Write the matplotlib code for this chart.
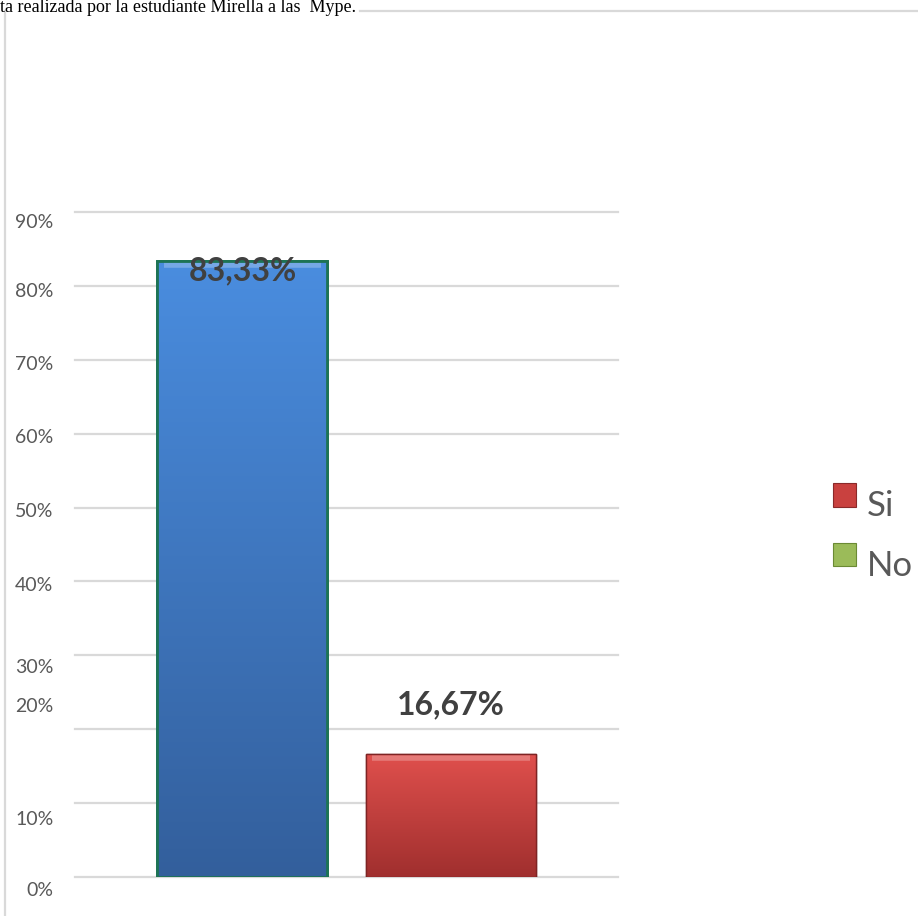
import matplotlib
matplotlib.use("Agg")
import matplotlib.pyplot as plt
import matplotlib.transforms as mtransforms
from matplotlib.patches import Patch, Rectangle
from matplotlib.legend_handler import HandlerPatch
import numpy as np

# data
categories = ["Si", "No"]
values = [83.33, 16.67]
value_labels = ["83,33%", "16,67%"]
grid_values = [0, 10, 20, 30, 40, 50, 60, 70, 80, 90]
tick_labels = ["0%", "10%", "20%", "30%", "40%", "50%", "60%", "70%", "80%", "90%"]
# the percent labels in the source sit off their gridlines
tick_label_pos = [-1.8, 7.8, 23.1, 28.3, 39.5, 49.4, 59.5, 69.3, 79.3, 88.6]
legend_labels = ["Si", "No"]
title = "ta realizada por la estudiante Mirella a las  Mype."

W, H = 918, 916
fig = plt.figure(figsize=(W / 100, H / 100), dpi=100)
fig.patch.set_facecolor("white")

ax = fig.add_axes([75 / W, (H - 877) / H, 543 / W, (877 - 212) / H])
for s in ax.spines.values():
    s.set_visible(False)
ax.set_xticks([])
ax.set_yticks([])
for g in grid_values:
    ax.axhline(g, color="#d9d9d9", lw=1.6, zorder=0, clip_on=False)

trans = mtransforms.blended_transform_factory(ax.transAxes, ax.transData)
for p, lab in zip(tick_label_pos, tick_labels):
    ax.text(-0.04, p, lab, transform=trans, ha="right", va="center",
            fontsize=14, color="#595959", family="Lato", clip_on=False)

bar_tops = ["#4a8ddf", "#e0504d"]
bar_bots = ["#335f9c", "#a02f2e"]
edges = ["#1d7355", "#7e2424"]
bars = ax.bar([0, 1], values, width=0.815, color=bar_tops, edgecolor=edges,
              linewidth=[2.0, 1.0], zorder=2)

for b, c1, c2 in zip(bars, bar_tops, bar_bots):
    x, w, h = b.get_x(), b.get_width(), b.get_height()
    c1 = np.array(matplotlib.colors.to_rgb(c1))
    c2 = np.array(matplotlib.colors.to_rgb(c2))
    t = np.linspace(0, 1, 256)[:, None]
    grad = (c1 * (1 - t) + c2 * t)[:, None, :]
    im = ax.imshow(grad, extent=(x, x + w, 0, h), aspect="auto", zorder=2.5,
                   interpolation="bilinear")
    im.set_clip_path(b)
    # soft highlight along the top, like the bevel in the source
    ax.plot([x + 0.03, x + w - 0.03], [h - 0.5, h - 0.5], color="white",
            alpha=0.25, lw=4, zorder=3, solid_capstyle="butt")
    ax.add_patch(plt.Rectangle((x, 0), w, h, fill=False, edgecolor=b.get_edgecolor(),
                               lw=b.get_linewidth(), zorder=3.5))

ax.set_xlim(-0.803, 1.801)
ax.set_ylim(0, 90)

ax.text(0, values[0] - 1.3, value_labels[0], ha="center", va="center",
        fontsize=23, fontweight="bold", color="#404040", family="Lato", zorder=5)
ax.text(1, values[1] + 6.6, value_labels[1], ha="center", va="center",
        fontsize=23, fontweight="bold", color="#404040", family="Lato", zorder=5)


# legend squares sit a little above the text in the source
def raised_square(legend, orig_handle, xdescent, ydescent, width, height, fontsize):
    return Rectangle((-xdescent, -ydescent + 6.5), width, height)


handles = [Patch(facecolor="#c9413f", edgecolor="#8a2a2a", lw=0.8),
           Patch(facecolor="#9bbb59", edgecolor="#6b8a34", lw=0.8)]
fig.legend(handles, legend_labels, loc="center left",
           bbox_to_anchor=(802 / W, 1 - 536 / H), frameon=False,
           prop={"family": "Lato", "size": 25}, labelcolor="#595959",
           handlelength=0.66, handleheight=0.66, handletextpad=0.3,
           labelspacing=0.8,
           handler_map={Patch: HandlerPatch(patch_func=raised_square)})

# frame lines of the cropped source
fig.add_artist(plt.Line2D([5 / W, 5 / W], [0, 1 - 11 / H], color="#d9d9d9", lw=1.6))
fig.add_artist(plt.Line2D([360 / W, 1], [1 - 11 / H, 1 - 11 / H], color="#d9d9d9", lw=1.6))

fig.text(0, 1 - 12 / H, title, ha="left", va="baseline", fontsize=13,
         family="Liberation Serif", color="black")

fig.savefig("out.png", dpi=100)
